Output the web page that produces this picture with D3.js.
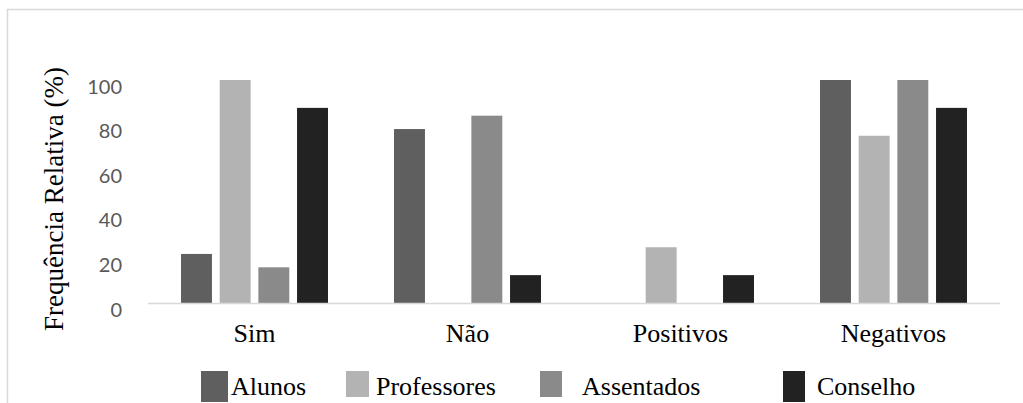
<!DOCTYPE html>
<html>
<head>
<meta charset="utf-8">
<script src="https://cdn.jsdelivr.net/npm/d3@7"></script>
<style>
  body { margin: 0; background: #fff; }
  svg { display: block; }
  .serif { font-family: "Liberation Serif", "Times New Roman", serif; }
</style>
</head>
<body>
<div id="chart"></div>
<script>
// categories and series (percent)
var categories = ["Sim", "Não", "Positivos", "Negativos"];
var seriesNames = ["Alunos", "Professores", "Assentados", "Conselho"];
var alunos      = [22, 78, 0, 100];
var professores = [100, 0, 25, 75];
var assentados  = [16, 84, 0, 100];
var conselho    = [87.5, 12.5, 12.5, 87.5];
var yTicks = [0, 20, 40, 60, 80, 100];

var seriesValues = [alunos, professores, assentados, conselho];
var colors = ["#5f5f5f", "#b3b3b3", "#8a8a8a", "#222222"];

var width = 1023, height = 403;

var svg = d3.select("#chart").append("svg")
    .attr("width", width)
    .attr("height", height);

// chart area border (runs off right and bottom edge)
svg.append("rect")
    .attr("x", 7.5).attr("y", 9.5)
    .attr("width", 1100).attr("height", 500)
    .attr("fill", "none")
    .attr("stroke", "#d9d9d9")
    .attr("stroke-width", 1.5);

var x0 = d3.scaleBand()
    .domain(categories)
    .range([148, 1000])
    .paddingInner(0.31)
    .paddingOuter(0.155);

var x1 = d3.scaleBand()
    .domain(seriesNames)
    .range([0, x0.bandwidth()])
    .padding(0.2)
    .paddingOuter(0);

var y = d3.scaleLinear()
    .domain([0, 100])
    .range([303, 80]);

// y axis labels only
var yAxis = svg.append("g")
    .attr("transform", "translate(148,0)")
    .call(d3.axisLeft(y).tickValues(yTicks).tickSize(0).tickPadding(26));
yAxis.select(".domain").remove();
yAxis.selectAll("text")
    .attr("dy", "0.65em")
    .style("font-family", "Lato, 'Noto Sans', sans-serif")
    .style("font-size", "20px")
    .attr("fill", "#595959");

// bars
var rows = categories.map(function(c, i) {
    return { cat: c, vals: seriesNames.map(function(s, j) { return { name: s, value: seriesValues[j][i], color: colors[j] }; }) };
});

var groups = svg.selectAll(".group")
    .data(rows)
    .enter().append("g")
    .attr("class", "group")
    .attr("transform", function(d) { return "translate(" + x0(d.cat) + ",0)"; });

groups.selectAll("rect")
    .data(function(d) { return d.vals; })
    .enter().append("rect")
    .attr("x", function(d) { return x1(d.name); })
    .attr("width", x1.bandwidth())
    .attr("y", function(d) { return y(d.value); })
    .attr("height", function(d) { return y(0) - y(d.value); })
    .attr("fill", function(d) { return d.color; });

// baseline
svg.append("line")
    .attr("x1", 148).attr("x2", 1000)
    .attr("y1", y(0) + 0.5).attr("y2", y(0) + 0.5)
    .attr("stroke", "#d9d9d9")
    .attr("stroke-width", 1.5);

// category labels
svg.selectAll(".cat")
    .data(categories)
    .enter().append("text")
    .attr("class", "cat serif")
    .attr("x", function(d) { return x0(d) + x0.bandwidth() / 2; })
    .attr("y", 342)
    .attr("text-anchor", "middle")
    .attr("font-size", 26)
    .attr("fill", "#000")
    .text(function(d) { return d; });

// y axis title
svg.append("text")
    .attr("class", "serif")
    .attr("transform", "translate(63,199) rotate(-90)")
    .attr("text-anchor", "middle")
    .attr("font-size", 27)
    .attr("fill", "#000")
    .text("Frequência Relativa (%)");

// legend (irregular spacing as in the original)
var legendLayout = [
    { sx: 201, sw: 27, sh: 31, tx: 231 },
    { sx: 346, sw: 23, sh: 26, tx: 376 },
    { sx: 540, sw: 22, sh: 26, tx: 582 },
    { sx: 783, sw: 22, sh: 31, tx: 817 }
];

var legend = svg.selectAll(".legend")
    .data(seriesNames)
    .enter().append("g")
    .attr("class", "legend");

legend.append("rect")
    .attr("x", function(d, i) { return legendLayout[i].sx; })
    .attr("y", 371)
    .attr("width", function(d, i) { return legendLayout[i].sw; })
    .attr("height", function(d, i) { return legendLayout[i].sh; })
    .attr("fill", function(d, i) { return colors[i]; });

legend.append("text")
    .attr("class", "serif")
    .attr("x", function(d, i) { return legendLayout[i].tx; })
    .attr("y", 395)
    .attr("font-size", 26)
    .attr("fill", "#000")
    .text(function(d) { return d; });
</script>
</body>
</html>
